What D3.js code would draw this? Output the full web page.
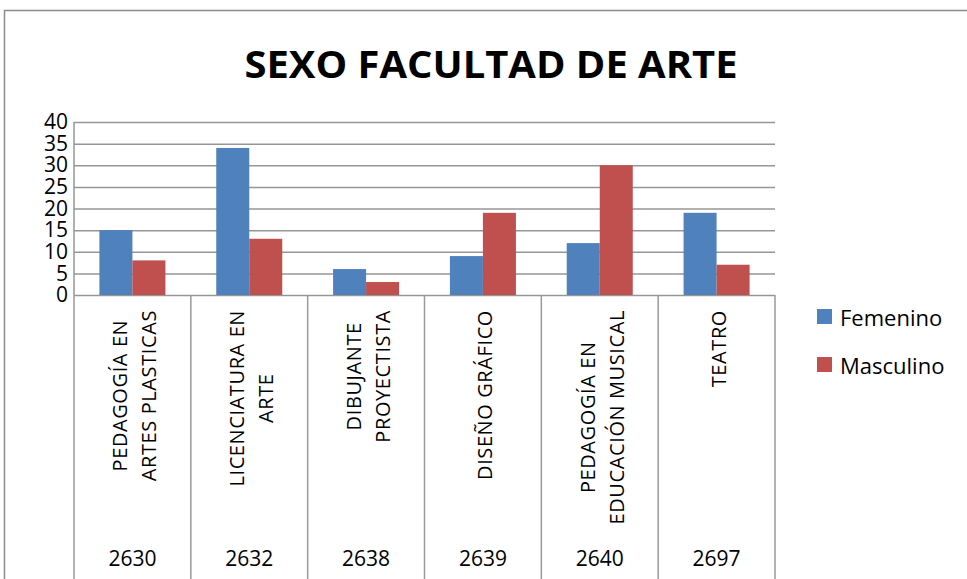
<!DOCTYPE html>
<html>
<head>
<meta charset="utf-8">
<script src="https://cdn.jsdelivr.net/npm/d3@7"></script>
<style>
  body { margin: 0; background: #fff; }
  svg text { font-family: "Open Sans", "Noto Sans", sans-serif; fill: #000; }
</style>
</head>
<body>
<div id="main"></div>
<script>
// datos del grafico
const categoryLines = [
  ["PEDAGOGÍA EN", "ARTES PLASTICAS"],
  ["LICENCIATURA EN", "ARTE"],
  ["DIBUJANTE", "PROYECTISTA"],
  ["DISEÑO GRÁFICO"],
  ["PEDAGOGÍA EN", "EDUCACIÓN MUSICAL"],
  ["TEATRO"]
];
const codes = ["2630", "2632", "2638", "2639", "2640", "2697"];
const seriesNames = ["Femenino", "Masculino"];
const femenino = [15, 34, 6, 9, 12, 19];
const masculino = [8, 13, 3, 19, 30, 7];
const yTicks = [0, 5, 10, 15, 20, 25, 30, 35, 40];
const colors = ["#4F81BD", "#C0504D"];

const W = 967, H = 579;
const plot = { left: 74, right: 775, top: 122, bottom: 295 };

const svg = d3.select("#main")
  .append("svg")
  .attr("width", W)
  .attr("height", H);

// marco exterior
svg.append("rect")
  .attr("x", 4.5).attr("y", 10.5)
  .attr("width", W + 20).attr("height", H + 20)
  .attr("fill", "none")
  .attr("stroke", "#8c8c8c")
  .attr("stroke-width", 1.5);

// titulo
svg.append("text")
  .attr("x", 491)
  .attr("y", 78)
  .attr("text-anchor", "middle")
  .attr("font-size", "37px")
  .attr("font-weight", "bold")
  .attr("textLength", 493)
  .attr("lengthAdjust", "spacingAndGlyphs")
  .text("SEXO FACULTAD DE ARTE");

const cats = codes.map((c, i) => i);
const x0 = d3.scaleBand().domain(cats).range([plot.left, plot.right]).padding(0);
const x1 = d3.scaleBand().domain(seriesNames).range([0, x0.bandwidth()]).paddingInner(0).paddingOuter(0.77);
const y = d3.scaleLinear().domain([0, 40]).range([plot.bottom, plot.top]);

// lineas de cuadricula
svg.append("g")
  .attr("transform", `translate(${plot.left},0)`)
  .call(d3.axisLeft(y).tickValues(yTicks).tickSize(-(plot.right - plot.left)).tickFormat(""))
  .call(g => g.select(".domain").remove())
  .selectAll("line")
  .attr("stroke", "#969696")
  .attr("stroke-width", 1.5);

// etiquetas eje Y
svg.append("g")
  .attr("transform", `translate(${plot.left - 6},0)`)
  .call(d3.axisLeft(y).tickValues(yTicks).tickSize(0).tickPadding(0))
  .call(g => g.select(".domain").remove())
  .selectAll("text")
  .attr("font-size", "21px")
  .attr("font-family", "Open Sans");

// barras
const rows = cats.map(i => ({ i, vals: [femenino[i], masculino[i]] }));
const groups = svg.append("g").selectAll("g")
  .data(rows)
  .join("g")
  .attr("transform", d => `translate(${x0(d.i)},0)`);

groups.selectAll("rect")
  .data(d => d.vals.map((v, k) => ({ k, v })))
  .join("rect")
  .attr("x", d => x1(seriesNames[d.k]))
  .attr("y", d => y(d.v))
  .attr("width", x1.bandwidth())
  .attr("height", d => y(0) - y(d.v))
  .attr("fill", d => colors[d.k]);

// eje vertical y divisiones de categorias
const bounds = cats.map(i => x0(i)).concat([plot.right]);
svg.append("line")
  .attr("x1", plot.left).attr("x2", plot.left)
  .attr("y1", plot.top).attr("y2", plot.bottom)
  .attr("stroke", "#969696").attr("stroke-width", 1.5);
svg.append("g").selectAll("line")
  .data(bounds)
  .join("line")
  .attr("x1", d => d).attr("x2", d => d)
  .attr("y1", plot.bottom).attr("y2", H)
  .attr("stroke", "#9a9a9a")
  .attr("stroke-width", 1.5);

// etiquetas de categorias (rotadas)
const labelTop = 310, lineGap = 29;
cats.forEach(i => {
  const cx = x0(i) + x0.bandwidth() / 2;
  const lines = categoryLines[i];
  const g = svg.append("g").attr("transform", `translate(${cx},${labelTop}) rotate(-90)`);
  const texts = g.selectAll("text")
    .data(lines)
    .join("text")
    .attr("font-size", "20px")
    .attr("letter-spacing", "0.6px")
    .attr("text-anchor", "middle")
    .attr("dominant-baseline", "central")
    .attr("y", (d, k) => (k - (lines.length - 1) / 2) * lineGap + 2)
    .text(d => d);
  const maxLen = d3.max(texts.nodes(), n => n.getComputedTextLength());
  texts.attr("x", -maxLen / 2);
});

// codigos
svg.append("g").selectAll("text")
  .data(codes)
  .join("text")
  .attr("x", (d, i) => x0(i) + x0.bandwidth() / 2)
  .attr("y", 558)
  .attr("text-anchor", "middle")
  .attr("dominant-baseline", "central")
  .attr("font-size", "21px")
  .text(d => d);

// leyenda
const legend = svg.append("g").selectAll("g")
  .data(seriesNames)
  .join("g")
  .attr("transform", (d, i) => `translate(817,${309 + i * 48})`);
legend.append("rect")
  .attr("width", 15).attr("height", 15)
  .attr("fill", (d, i) => colors[i]);
legend.append("text")
  .attr("x", 23)
  .attr("y", 8)
  .attr("dominant-baseline", "central")
  .attr("font-size", "22px")
  .text(d => d);
</script>
</body>
</html>
